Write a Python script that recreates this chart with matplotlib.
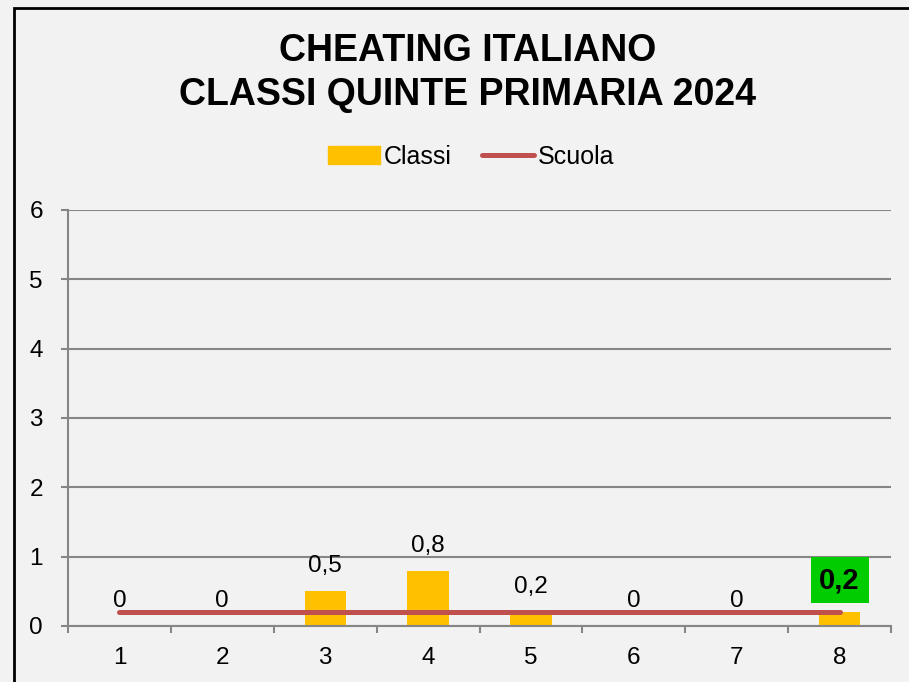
import matplotlib.pyplot as plt
import matplotlib.patches as mpatches
from matplotlib.lines import Line2D

# dati
classi_labels = ["1", "2", "3", "4", "5", "6", "7", "8"]
classi = [0, 0, 0.5, 0.8, 0.2, 0, 0, 0.2]
scuola = [0.2, 0.2, 0.2, 0.2, 0.2, 0.2, 0.2, 0.2]
etichette = ["0", "0", "0,5", "0,8", "0,2", "0", "0", "0,2"]

plt.rcParams['font.family'] = ['Liberation Sans', 'DejaVu Sans']

W, H = 909, 682
fig = plt.figure(figsize=(W/100, H/100), dpi=100)
fig.patch.set_facecolor("#F2F2F2")

# cornice nera
fig.add_artist(mpatches.Rectangle((14/W, -0.1), 1.2, 1 - 8/H + 0.1, transform=fig.transFigure,
                                  fill=False, edgecolor="black", linewidth=2))

ax = fig.add_axes([68/W, 56/H, (891-68)/W, (626-210)/H])
ax.set_facecolor("#F2F2F2")

x = list(range(1, len(classi) + 1))
ax.bar(x, classi, width=0.4, color="#FFC000", zorder=2)
ax.plot(x, scuola, color="#C0504D", linewidth=3.6, solid_capstyle="round", zorder=3)

# etichette dati
for i, (xi, v, t) in enumerate(zip(x, classi, etichette)):
    if i == len(classi) - 1:
        ax.annotate(t, (xi, v), xytext=(0, 23), textcoords="offset points",
                    ha="center", va="center", fontsize=21, fontweight="bold",
                    bbox=dict(boxstyle="square,pad=0.3", facecolor="#00CC00", edgecolor="none"),
                    zorder=4)
    else:
        ax.annotate(t, (xi, v), xytext=(0, 18), textcoords="offset points",
                    ha="center", va="center", fontsize=17.5, zorder=4)

ax.set_xlim(0.5, 8.5)
ax.set_ylim(0, 6)
ax.set_yticks(range(0, 7))
ax.yaxis.grid(True, color="#868686", linewidth=1.5, zorder=0)
ax.set_xticks([i + 0.5 for i in range(0, 9)])
ax.set_xticklabels([])
ax.set_xticks(x, minor=True)
ax.set_xticklabels(classi_labels, minor=True)
ax.tick_params(axis="x", which="minor", length=0, pad=15, labelsize=17.5)
ax.tick_params(axis="x", which="major", length=5, width=1.5, color="#868686")
ax.tick_params(axis="y", length=5, width=1.5, color="#868686", labelsize=17.5, pad=13)
for s in ["top", "right"]:
    ax.spines[s].set_visible(False)
for s in ["left", "bottom"]:
    ax.spines[s].set_color("#868686")
    ax.spines[s].set_linewidth(1.5)

fig.text(468/W, 1 - 73/H, "CHEATING ITALIANO\nCLASSI QUINTE PRIMARIA 2024",
         ha="center", va="center", fontsize=27, fontweight="bold", linespacing=1.3)

handles = [mpatches.Patch(color="#FFC000", label="Classi"),
           Line2D([0], [0], color="#C0504D", linewidth=3.6, solid_capstyle="round", label="Scuola")]
fig.legend(handles=handles, loc="center", bbox_to_anchor=(471/W, 1 - 157/H), ncol=2,
           frameon=False, fontsize=18, handlelength=2.1, handleheight=0.75,
           handletextpad=0.15, columnspacing=1.2)

fig.savefig("out.png", dpi=100, facecolor=fig.get_facecolor())
